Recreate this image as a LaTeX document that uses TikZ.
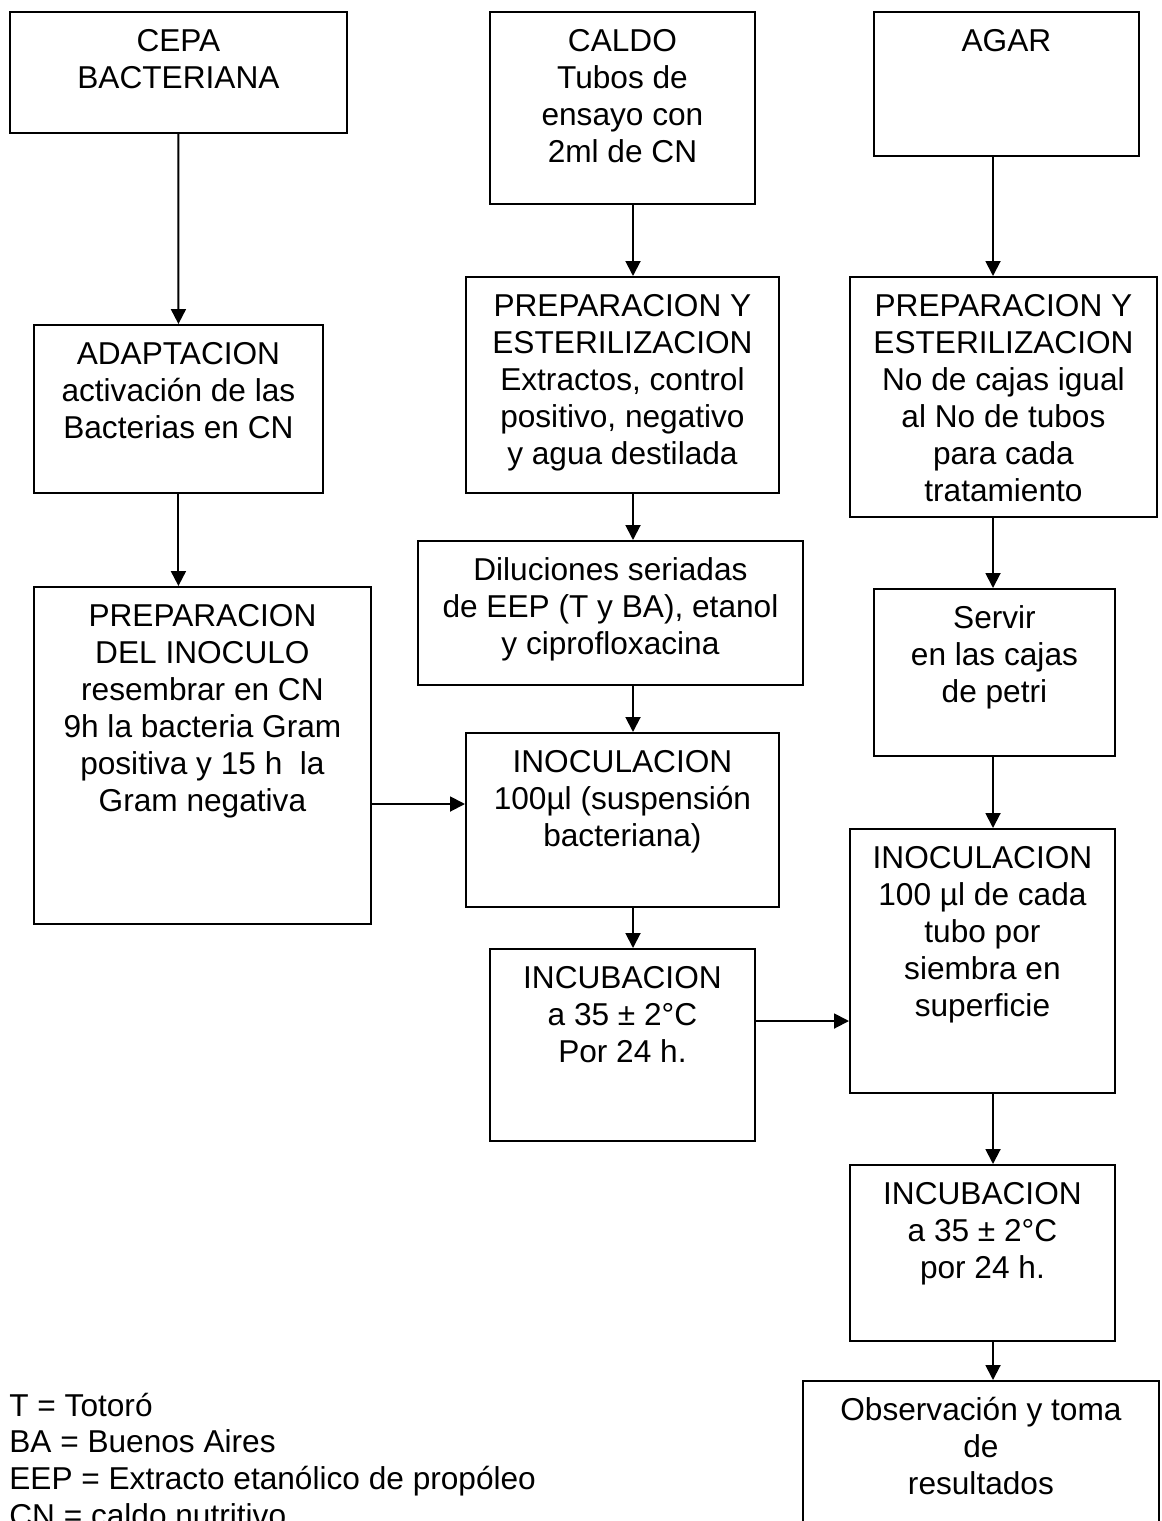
\documentclass[tikz,border=0pt]{standalone}
\usepackage{fontspec}
\setmainfont{Liberation Sans}
\usepackage{tikz}
\usetikzlibrary{positioning,calc,arrows.meta}

\begin{document}
\begin{tikzpicture}[
		x=0.02cm, y=-0.02cm,
		caja/.style={draw, line width=1.1pt, inner sep=0pt, anchor=north west, align=flush center, text height=0.8cm, font=\fontsize{18}{21}\selectfont},
		flecha/.style={line width=1.1pt, -{Triangle[length=0.3cm, width=0.3cm]}},
		nota/.style={anchor=base west, align=flush left, inner sep=0pt, text width=12cm, font=\fontsize{18}{21}\selectfont}
		]
		\useasboundingbox (0,0) rectangle (1161,1521);
		\clip (0,0) rectangle (1161,1521);
		
		% ===== columna izquierda: cepa =====
		\node[caja, minimum width=6.74cm, text width=6.74cm, minimum height=2.42cm, text depth=1.62cm] (cepa) at (9,11) {CEPA\\BACTERIANA};
		\node[caja, minimum width=5.78cm, text width=5.78cm, minimum height=3.36cm, text depth=2.56cm] (adapt) at (33,324) {ADAPTACION\\activación de las\\Bacterias en CN};
		\node[caja, minimum width=6.74cm, text width=6.74cm, minimum height=6.74cm, text depth=5.94cm] (inocu) at (33,586) {PREPARACION\\DEL INOCULO\\resembrar en CN\\9h la bacteria Gram\\positiva y 15 h\ \ la\\Gram negativa};
		
		% ===== columna central: caldo =====
		\node[caja, minimum width=5.30cm, text width=5.30cm, minimum height=3.84cm, text depth=3.04cm] (caldo) at (489,11) {CALDO\\Tubos de\\ensayo con\\2ml de CN};
		\node[caja, minimum width=6.26cm, text width=6.26cm, minimum height=4.32cm, text depth=3.52cm] (prepA) at (465,276) {PREPARACION Y\\ESTERILIZACION\\Extractos, control\\positivo, negativo\\y agua destilada};
		\node[caja, minimum width=7.70cm, text width=7.70cm, minimum height=2.88cm, text depth=2.08cm] (dilu) at (417,540) {Diluciones seriadas\\de EEP (T y BA), etanol\\y ciprofloxacina};
		\node[caja, minimum width=6.26cm, text width=6.26cm, minimum height=3.48cm, text depth=2.68cm] (inocA) at (465,732) {INOCULACION\\100µl (suspensión\\bacteriana)};
		\node[caja, minimum width=5.30cm, text width=5.30cm, minimum height=3.84cm, text depth=3.04cm] (incuA) at (489,948) {INCUBACION\\a 35 ± 2°C\\Por 24 h.};
		
		% ===== columna derecha: agar =====
		\node[caja, minimum width=5.30cm, text width=5.30cm, minimum height=2.88cm, text depth=2.08cm] (agar) at (873,11) {AGAR};
		\node[caja, minimum width=6.14cm, text width=6.14cm, minimum height=4.80cm, text depth=4.00cm] (prepB) at (849,276) {PREPARACION Y\\ESTERILIZACION\\No de cajas igual\\al No de tubos\\para cada\\tratamiento};
		\node[caja, minimum width=4.82cm, text width=4.82cm, minimum height=3.34cm, text depth=2.54cm] (servir) at (873,588) {Servir\\en las cajas\\de petri};
		\node[caja, minimum width=5.30cm, text width=5.30cm, minimum height=5.28cm, text depth=4.48cm] (inocB) at (849,828) {INOCULACION\\100 µl de cada\\tubo por\\siembra en\\superficie};
		\node[caja, minimum width=5.30cm, text width=5.30cm, minimum height=3.52cm, text depth=2.72cm] (incuB) at (849,1164) {INCUBACION\\a 35 ± 2°C\\por 24 h.};
		\node[caja, minimum width=7.12cm, text width=7.12cm, minimum height=4.00cm, text depth=3.20cm] (obs) at (802,1380) {Observación y toma\\de\\resultados};
		
		% ===== leyenda =====
		\node[nota] (leyenda) at (9,1416) {T = Totoró\\BA = Buenos Aires\\EEP = Extracto etanólico de propóleo\\CN = caldo nutritivo};
		
		% ===== flechas =====
		\coordinate (colB) at (633,0);
		\coordinate (colC) at (993,0);
		\coordinate (filaA) at (0,804);
		\coordinate (filaB) at (0,1021);
		
		\draw[flecha] (cepa) -- (adapt);
		\draw[flecha] (adapt.south) -- (adapt.south |- inocu.north);
		\draw[flecha] (inocu.east |- filaA) -- (inocA.west |- filaA);
		
		\draw[flecha] (caldo.south -| colB) -- (prepA.north -| colB);
		\draw[flecha] (prepA.south -| colB) -- (dilu.north -| colB);
		\draw[flecha] (dilu.south -| colB) -- (inocA.north -| colB);
		\draw[flecha] (inocA.south -| colB) -- (incuA.north -| colB);
		\draw[flecha] (incuA.east |- filaB) -- (inocB.west |- filaB);
		
		\draw[flecha] (agar.south -| colC) -- (prepB.north -| colC);
		\draw[flecha] (prepB.south -| colC) -- (servir.north -| colC);
		\draw[flecha] (servir.south -| colC) -- (inocB.north -| colC);
		\draw[flecha] (inocB.south -| colC) -- (incuB.north -| colC);
		\draw[flecha] (incuB.south -| colC) -- (obs.north -| colC);
		
	\end{tikzpicture}
\end{document}
